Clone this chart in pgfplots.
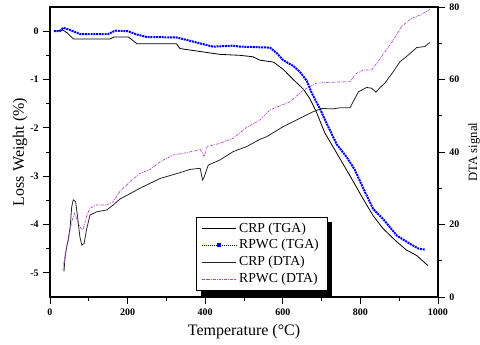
\documentclass[border=0pt]{standalone}
\usepackage{fontspec}
\setmainfont{Liberation Serif}
\usepackage{pgfplots}
\pgfplotsset{compat=1.18}
\usetikzlibrary{backgrounds}
\definecolor{rpwcdta}{HTML}{B040C8}

\begin{document}
\begin{tikzpicture}
% left axis: TGA (loss weight)
\begin{axis}[
  name=tga,
  width=291pt, height=217.5pt, scale only axis,
  xmin=0, xmax=1000, ymin=-5.5, ymax=0.5,
  xtick={0,200,...,1000}, ytick={-5,-4,...,0},
  minor x tick num=1, minor y tick num=1,
  xtick pos=bottom, ytick pos=left,
  tick align=outside,
  major tick length=5pt, minor tick length=3pt,
  tick style={black, line width=0.6pt},
  axis line style={line width=0.8pt},
  tick label style={font=\fontsize{7.5}{8}\selectfont\bfseries},
  /pgf/number format/assume math mode=true,
  /pgf/number format/1000 sep={},
  xlabel={Temperature (°C)}, ylabel={Loss Weight (\%)},
  label style={font=\fontsize{12}{14}\selectfont},
  xlabel style={at={(axis description cs:0.5,-0.121)}, anchor=center},
  ylabel style={at={(axis description cs:-0.077,0.5)}, anchor=center},
]
\addplot[black, line width=0.6pt] coordinates {
(10,0) (25,0.01) (34,0.02) (45,-0.04) (60,-0.16) (155,-0.16) (165,-0.12) (202,-0.12)
(224,-0.26) (326,-0.26) (335,-0.36) (395,-0.43) (438,-0.48) (490,-0.5) (523,-0.53)
(541,-0.6) (576,-0.64) (601,-0.79) (627,-1.0) (653,-1.2) (670,-1.4) (687,-1.68)
(708,-2.1) (738,-2.51) (773,-2.99) (807,-3.47) (833,-3.82) (859,-4.09) (894,-4.36)
(919,-4.53) (945,-4.64) (974,-4.85)};
\addplot[blue, line width=1.5pt, dash pattern=on 1.5pt off 0.6pt] coordinates {
(10,0) (25,0.0) (34,0.07) (50,0.03) (77,-0.06) (150,-0.06) (168,0.01) (200,0.0)
(224,-0.07) (249,-0.12) (326,-0.13) (361,-0.2) (395,-0.27) (420,-0.32) (472,-0.3)
(490,-0.32) (567,-0.34) (584,-0.45) (601,-0.6) (627,-0.72) (644,-0.84) (662,-1.03)
(674,-1.27) (696,-1.61) (716,-1.96) (739,-2.34) (765,-2.61) (785,-2.86) (812,-3.33)
(833,-3.68) (859,-3.89) (894,-4.23) (928,-4.4) (950,-4.5) (966,-4.52)};
\end{axis}
% right axis: DTA signal
\begin{axis}[
  width=291pt, height=217.5pt, scale only axis,
  xmin=0, xmax=1000, ymin=0, ymax=80,
  axis x line=none, axis y line*=right,
  ytick={0,20,...,80}, minor y tick num=1,
  tick align=outside,
  major tick length=5pt, minor tick length=3pt,
  tick style={black, line width=0.6pt},
  axis line style={line width=0.8pt},
  tick label style={font=\fontsize{7.5}{8}\selectfont\bfseries},
  /pgf/number format/assume math mode=true,
  ylabel={DTA signal},
  label style={font=\fontsize{9.5}{11}\selectfont},
  ylabel style={at={(axis description cs:1.093,0.5)}, anchor=center},
  legend image code/.code={\draw[#1] plot coordinates {(0cm,0cm) (0.45cm,0cm) (0.9cm,0cm)};},
  legend cell align=left,
  legend style={name=leg, at={(0.376,0.276)}, anchor=north west, draw=black, fill=white,
    font=\fontsize{10.3}{12}\selectfont, inner xsep=4pt},
]
\addlegendimage{black, line width=0.6pt}
\addlegendentry{CRP (TGA)}
\addlegendimage{legend image code/.code={
  \draw[blue!70!black, densely dotted, line width=0.5pt] plot coordinates {(0cm,0cm) (0.45cm,0cm) (0.9cm,0cm)};
  \fill[blue] (0.45cm,0cm) +(-1.1pt,-1.1pt) rectangle +(1.1pt,1.1pt);}}
\addlegendentry{RPWC (TGA)}
\addplot[black!85, line width=0.6pt] coordinates {
(36,7.0) (39,11.1) (43,13.9) (47,15.7) (52,19.4) (56,24.9) (60,26.8) (66,26.3)
(71,22.2) (77,16.6) (82,14.3) (88,14.8) (94,18.5) (103,22.6) (120,23.5) (146,24.0)
(163,25.4) (180,27.0) (232,30.0) (284,32.7) (335,34.3) (361,35.2) (387,35.5)
(390,34) (393,32.3) (397,33) (402,34.6) (408,36.4) (438,37.8) (472,40.1) (507,41.5)
(541,43.5) (558,44.2) (601,47.0) (644,49.3) (678,51.1) (700,52.0) (730,51.9)
(747,52.2) (773,52.2) (795,56.6) (816,57.8) (829,57.6) (840,56.5) (851,57.8)
(863,59.0) (885,62.2) (902,64.9) (924,66.8) (945,68.8) (966,69.1) (979,70.2)};
\addlegendentry{CRP (DTA)}
\addplot[rpwcdta, line width=0.5pt, dash pattern=on 2pt off 0.8pt on 0.6pt off 0.8pt] coordinates {
(33,7.4) (39,11.6) (47,15.7) (56,20.8) (63,23.1) (73,20.3) (82,18.5) (86,18.9)
(94,22.2) (103,24.5) (120,25.4) (146,25.4) (163,26.3) (180,29.1) (206,31.8)
(232,34.1) (258,35.2) (284,37.3) (318,39.2) (352,39.8) (387,40.7) (392,40)
(397,38.7) (405,41.5) (438,42.4) (472,43.8) (507,46.8) (541,48.8) (567,51.6)
(619,53.9) (653,57.1) (687,59.0) (722,59.2) (765,59.4) (773,59.4) (790,61.7)
(808,62.6) (829,62.6) (851,65.8) (885,70.9) (906,74.6) (932,76.9) (954,77.8) (979,79.3)};
\addlegendentry{RPWC (DTA)}
\end{axis}
% legend shadow, behind the legend box
\begin{scope}[on background layer]
\fill[black] ([xshift=4pt,yshift=-4pt]leg.south west) rectangle ([xshift=4pt,yshift=-4pt]leg.north east);
\end{scope}
\pgfresetboundingbox
\path (tga.south west) ++(-37.5pt,-36pt) rectangle ++(360pt,258.75pt);
\end{tikzpicture}
\end{document}
